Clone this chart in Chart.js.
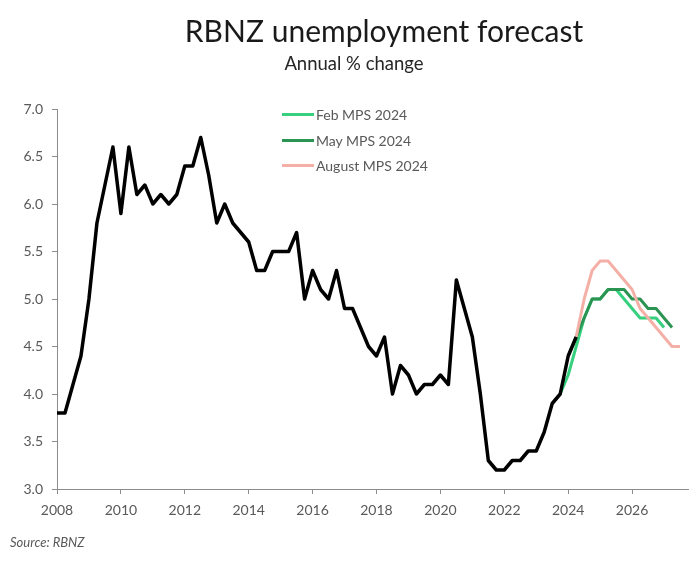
<!DOCTYPE html>
<html>
<head>
<meta charset="utf-8">
<script src="https://cdn.jsdelivr.net/npm/chart.js@4.4.1/dist/chart.umd.min.js"></script>
<style>
body{margin:0;background:#fff;font-family:Lato,"Open Sans",sans-serif}
.container{position:relative;width:700px;height:561px;overflow:hidden}
#myChart{position:absolute;left:0;top:0}
.chart_title{position:absolute;left:0;width:768px;top:12px;text-align:center;font-size:30px;color:#1a1a1a}
.chart_subtitle{position:absolute;left:0;width:708px;top:52px;text-align:center;font-size:18.5px;color:#262626}
.legend_box{position:absolute;left:282px;top:102px}
.legend_row{height:25.5px;display:flex;align-items:center;font-size:14px;color:#595959}
.legend_line{width:32px;height:3px;margin-right:2px}
.source{position:absolute;left:10px;top:534px;font-size:13px;font-style:italic;color:#595959}
</style>
</head>
<body>
<div class="container">
    <canvas id="myChart" width="700" height="561"></canvas>
    <div class="chart_title">RBNZ unemployment forecast</div>
    <div class="chart_subtitle">Annual % change</div>
    <div class="legend_box"></div>
    <div class="source">Source: RBNZ</div>
</div>
<script>
// quarterly, first value of each list is the quarter given in *_start
const actual_start=2008.0
const actual=[3.8,3.8,4.1,4.4,5.0,5.8,6.2,6.6,5.9,6.6,6.1,6.2,6.0,6.1,6.0,6.1,
    6.4,6.4,6.7,6.3,5.8,6.0,5.8,5.7,5.6,5.3,5.3,5.5,5.5,5.5,5.7,5.0,
    5.3,5.1,5.0,5.3,4.9,4.9,4.7,4.5,4.4,4.6,4.0,4.3,4.2,4.0,4.1,4.1,
    4.2,4.1,5.2,4.9,4.6,4.0,3.3,3.2,3.2,3.3,3.3,3.4,3.4,3.6,3.9,4.0,
    4.4,4.6]

const feb_start=2023.75
const feb_mps=[4.0,4.2,4.5,4.8,5.0,5.0,5.1,5.1,5.0,4.9,4.8,4.8,4.8,4.7]

const may_start=2024.0
const may_mps=[4.4,4.6,4.8,5.0,5.0,5.1,5.1,5.1,5.0,5.0,4.9,4.9,4.8,4.7]

const aug_start=2024.25
const aug_mps=[4.6,5.0,5.3,5.4,5.4,5.3,5.2,5.1,4.9,4.8,4.7,4.6,4.5,4.5]

const x_ticks=[2008,2010,2012,2014,2016,2018,2020,2022,2024,2026]
const y_ticks=[3.0,3.5,4.0,4.5,5.0,5.5,6.0,6.5,7.0]

function to_points(start,values) {
    return values.map((v,i)=>({x:start+i*0.25,y:v}))
}

const datasets=[
    {label:'Actual',data:to_points(actual_start,actual),borderColor:'#000000',borderWidth:3.5},
    {label:'August MPS 2024',data:to_points(aug_start,aug_mps),borderColor:'#f4b0a6',borderWidth:3},
    {label:'May MPS 2024',data:to_points(may_start,may_mps),borderColor:'#2b9453',borderWidth:3},
    {label:'Feb MPS 2024',data:to_points(feb_start,feb_mps),borderColor:'#36d07f',borderWidth:3}
]

function legend_maker() {
    let legend_box=document.querySelector('.legend_box')
    let order=['Feb MPS 2024','May MPS 2024','August MPS 2024']
    order.forEach((name)=>{
        let ds=datasets.find((d)=>d.label===name)
        let row=document.createElement('div')
        row.classList.add('legend_row')
        row.innerHTML=`<span class="legend_line" style="background:${ds.borderColor}"></span>${name}`
        legend_box.appendChild(row)
    })
}

function Chart_maker() {
    const ctx=document.getElementById('myChart').getContext('2d')
    const tick_font={family:'Lato',size:14}
    new Chart(ctx,{
        type:'line',
        data:{datasets:datasets.map((d)=>({
            label:d.label,
            data:d.data,
            borderColor:d.borderColor,
            borderWidth:d.borderWidth,
            borderJoinStyle:'round',
            pointRadius:0,
            fill:false,
            tension:0
        }))},
        options:{
            responsive:false,
            animation:false,
            layout:{padding:{top:109,right:12,bottom:0,left:0}},
            plugins:{legend:{display:false},tooltip:{enabled:false}},
            scales:{
                x:{
                    type:'linear',
                    min:2008,
                    max:2027.75,
                    afterFit:(scale)=>{scale.height=72},
                    afterBuildTicks:(scale)=>{scale.ticks=x_ticks.map((v)=>({value:v}))},
                    border:{color:'#8c8c8c',width:1},
                    grid:{display:true,drawOnChartArea:false,drawTicks:true,tickLength:5,color:'#8c8c8c'},
                    ticks:{autoSkip:false,maxRotation:0,padding:8,color:'#595959',font:tick_font,
                        callback:(v)=>String(v)}
                },
                y:{
                    min:3,
                    max:7,
                    afterFit:(scale)=>{scale.width=57},
                    afterBuildTicks:(scale)=>{scale.ticks=y_ticks.map((v)=>({value:v}))},
                    border:{color:'#8c8c8c',width:1},
                    grid:{display:true,drawOnChartArea:false,drawTicks:true,tickLength:5,color:'#8c8c8c'},
                    ticks:{padding:9,color:'#595959',font:tick_font,
                        callback:(v)=>Number(v).toFixed(1)}
                }
            }
        }
    })
}

legend_maker()
Chart_maker()
</script>
</body>
</html>
